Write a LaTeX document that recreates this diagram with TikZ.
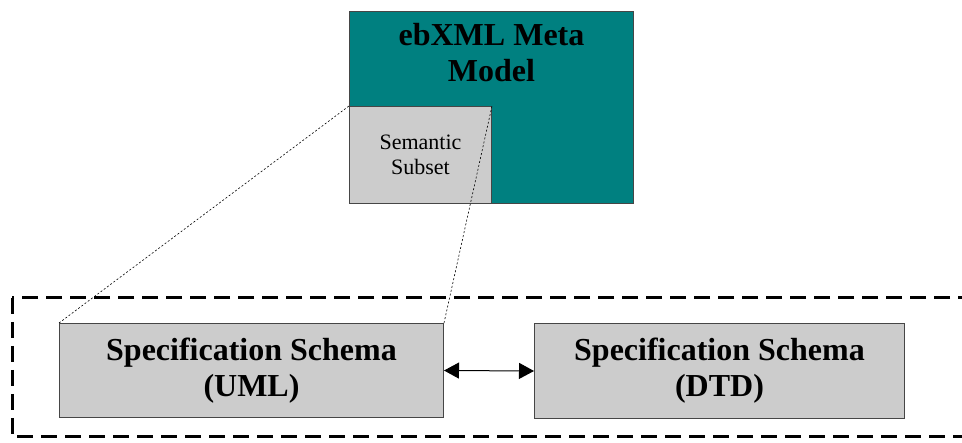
\documentclass[tikz,border=0pt]{standalone}
\usepackage{fontspec}
\setmainfont{Liberation Serif}
\usetikzlibrary{arrows.meta}
\definecolor{tealfill}{RGB}{0,128,128}
\definecolor{boxgray}{RGB}{204,204,204}
\definecolor{edgegray}{RGB}{70,70,70}
\tikzset{
  box/.style={draw=edgegray, line width=1pt, anchor=north west, inner sep=0pt},
  bigtext/.style={font=\fontsize{32}{36}\selectfont\bfseries, align=center},
  guide/.style={line width=0.6pt, dash pattern=on 2pt off 2pt},
  frame/.style={line width=3pt, dash pattern=on 16pt off 8pt},
  biarrow/.style={line width=1pt, draw=black, {Triangle[length=15pt,width=16pt]}-{Triangle[length=15pt,width=16pt]}}
}
\begin{document}
\begin{tikzpicture}[x=1pt,y=-1pt]
\clip (0,0) rectangle (962,443);
\node[box, fill=tealfill, minimum width=284, minimum height=192] (meta) at (349,11) {};
\node[bigtext, anchor=north] (title) at ([yshift=-9pt]meta.north) {ebXML Meta\\Model};
\node[box, fill=boxgray, minimum width=142, minimum height=97] (sem) at (349,106) {};
\node[font=\fontsize{22}{25}\selectfont, align=center] (semtext) at ([yshift=0pt]sem.center) {Semantic\\Subset};
\draw[frame] (12,298) rectangle (990,437);
\node[box, fill=boxgray, minimum width=384, minimum height=94] (uml) at (59,323) {};
\node[bigtext] (umltext) at ([yshift=0pt]uml.center) {Specification Schema\\(UML)};
\node[box, fill=boxgray, minimum width=370, minimum height=95] (dtd) at (534,323) {};
\node[bigtext] (dtdtext) at ([yshift=0pt]dtd.center) {Specification Schema\\(DTD)};
\draw[guide] (uml.north west) -- (sem.north west);
\draw[guide] (uml.north east) -- (sem.north east);
\draw[biarrow] (uml.east) -- (dtd.west);
\end{tikzpicture}
\end{document}
